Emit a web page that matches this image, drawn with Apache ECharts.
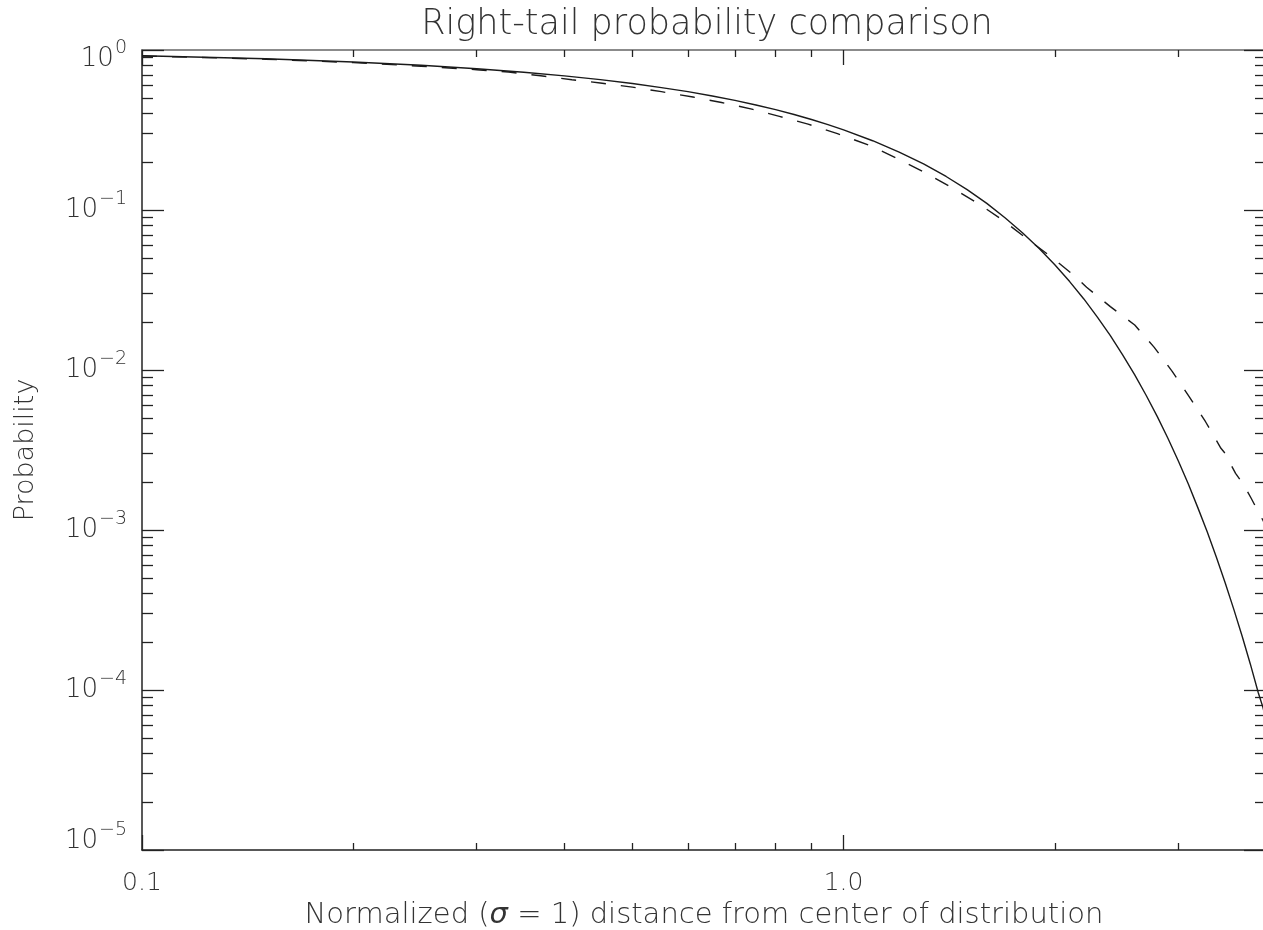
<!DOCTYPE html>
<html>
<head>
<meta charset="utf-8">
<script src="https://cdn.jsdelivr.net/npm/echarts@6/dist/echarts.min.js"></script>
<style>
  html, body { margin: 0; padding: 0; background: #fff; }
  #myChart { width: 1263px; height: 930px; }
</style>
</head>
<body>
<div id="myChart"></div>
<script>
// distance (sigma units) and probability
var xSolid = [0.1, 0.15, 0.2, 0.25, 0.3, 0.35, 0.4, 0.45, 0.5, 0.55, 0.6, 0.65, 0.7, 0.75, 0.8, 0.85, 0.9, 0.95, 1.0,
  1.1, 1.2, 1.3, 1.4, 1.5, 1.6, 1.7, 1.8, 1.9, 2.0, 2.1, 2.2, 2.3, 2.4, 2.5, 2.6, 2.7, 2.8, 2.9, 3.0,
  3.1, 3.2, 3.3, 3.4, 3.5, 3.6, 3.7, 3.8, 3.9, 3.96, 4.0];
var pSolid = [0.920, 0.881, 0.842, 0.803, 0.764, 0.726, 0.689, 0.653, 0.617, 0.582, 0.549, 0.516, 0.484, 0.453, 0.424, 0.395, 0.368, 0.342, 0.317,
  0.271, 0.230, 0.194, 0.162, 0.134, 0.110, 0.0891, 0.0719, 0.0574, 0.0455, 0.0357, 0.0278, 0.0214, 0.0164, 0.0124, 0.00932, 0.00693, 0.00511, 0.00373, 0.00270,
  0.00194, 0.00137, 0.000967, 0.000674, 0.000465, 0.000318, 0.000216, 0.000145, 0.0000962, 0.0000780, 0.0000650];

var xDashed = [0.1, 0.15, 0.2, 0.25, 0.3, 0.333, 0.37, 0.41, 0.45, 0.5, 0.55, 0.61, 0.67, 0.74, 0.81, 0.89, 0.98,
  1.1, 1.2, 1.31, 1.43, 1.56, 1.69, 1.83, 1.98, 2.14, 2.22, 2.40, 2.60, 2.77, 2.94, 3.11, 3.28, 3.36, 3.45, 3.49,
  3.62, 3.72, 3.81, 3.90, 3.96, 4.0];
var pDashed = [0.918, 0.876, 0.834, 0.792, 0.753, 0.728, 0.690, 0.652, 0.622, 0.586, 0.549, 0.508, 0.470, 0.427, 0.385, 0.344, 0.300,
  0.249, 0.207, 0.170, 0.137, 0.109, 0.0857, 0.0656, 0.0506, 0.0383, 0.0329, 0.0249, 0.0191, 0.0139, 0.0098, 0.0068, 0.00475, 0.00396, 0.00324, 0.00305,
  0.00226, 0.00191, 0.00158, 0.00130, 0.00115, 0.00106];

var xMajorTicks = [0.1, 1];
var xMinorTicks = [0.2, 0.3, 0.4, 0.5, 0.6, 0.7, 0.8, 0.9, 2, 3, 4];
var yMajorTicks = [1e-5, 1e-4, 1e-3, 1e-2, 1e-1, 1];
var yMinorSteps = [2, 3, 4, 5, 6, 7, 8, 9];

var yMinorTicks = [];
for (var d = 0; d < yMajorTicks.length - 1; d++) {
  for (var k = 0; k < yMinorSteps.length; k++) {
    yMinorTicks.push(yMajorTicks[d] * yMinorSteps[k]);
  }
}

function pairs(xs, ys) {
  var out = [];
  for (var i = 0; i < xs.length; i++) out.push([xs[i], ys[i]]);
  return out;
}

var axisColor = '#222';
var textColor = '#333';
var fontName = 'DejaVu Sans';
var fontW = 200;

function xAxisOf(pos, major, withLabel) {
  return {
    type: 'log',
    logBase: 10,
    min: 0.1,
    max: 4.0,
    position: pos,
    axisLine: { show: major, onZero: false, lineStyle: { color: pos === 'top' ? '#666' : axisColor, width: 1.5 } },
    axisTick: {
      show: true,
      inside: true,
      length: major ? 15 : 7,
      customValues: major ? xMajorTicks : xMinorTicks,
      lineStyle: { color: axisColor, width: 1.3 }
    },
    axisLabel: {
      show: withLabel,
      customValues: xMajorTicks,
      margin: 21,
      color: textColor,
      fontFamily: fontName,
      fontWeight: fontW,
      fontSize: 25,
      formatter: function (v) { return v >= 1 ? v.toFixed(1) : String(v); }
    },
    splitLine: { show: false },
    minorTick: { show: false },
    name: withLabel ? 'Normalized ({s|σ} = 1) distance from center of distribution' : '',
    nameLocation: 'middle',
    nameGap: 48,
    nameTextStyle: {
      color: textColor, fontFamily: fontName, fontWeight: fontW, fontSize: 29,
      rich: { s: { fontStyle: 'italic', fontSize: 29, color: textColor, fontFamily: fontName, fontWeight: fontW } }
    }
  };
}

// top / bottom labels of the y axis sit a little inside the frame
var richY = {
  b: { fontSize: 26, lineHeight: 22, color: textColor, fontFamily: fontName, fontWeight: fontW },
  e: { fontSize: 19, lineHeight: 16, padding: [0, 0, 22, 1], color: textColor, fontFamily: fontName, fontWeight: fontW },
  bt: { fontSize: 26, lineHeight: 22, padding: [19, 0, 0, 0], color: textColor, fontFamily: fontName, fontWeight: fontW },
  et: { fontSize: 19, lineHeight: 16, padding: [19, 0, 22, 1], color: textColor, fontFamily: fontName, fontWeight: fontW },
  bb: { fontSize: 26, lineHeight: 22, padding: [0, 0, 17, 0], color: textColor, fontFamily: fontName, fontWeight: fontW },
  eb: { fontSize: 19, lineHeight: 16, padding: [0, 0, 39, 1], color: textColor, fontFamily: fontName, fontWeight: fontW }
};

function yAxisOf(pos, major, withLabel) {
  return {
    type: 'log',
    logBase: 10,
    min: 1e-5,
    max: 1,
    position: pos,
    axisLine: { show: major, onZero: false, lineStyle: { color: axisColor, width: 1.5 } },
    axisTick: {
      show: true,
      inside: true,
      length: major ? 22 : 11,
      customValues: major ? yMajorTicks : yMinorTicks,
      lineStyle: { color: axisColor, width: 1.3 }
    },
    axisLabel: {
      show: withLabel,
      customValues: yMajorTicks,
      margin: 15,
      color: textColor,
      fontFamily: fontName,
      fontWeight: fontW,
      formatter: function (v) {
        var e = Math.round(Math.log(v) / Math.LN10);
        var sfx = e === 0 ? 't' : (e === -5 ? 'b' : '');
        return '{b' + sfx + '|10}{e' + sfx + '|' + (e < 0 ? '\u2212' + (-e) : e) + '}';
      },
      rich: richY
    },
    splitLine: { show: false },
    minorTick: { show: false },
    name: withLabel ? 'Probability' : '',
    nameLocation: 'middle',
    nameGap: 103,
    nameRotate: 90,
    nameTextStyle: { color: textColor, fontFamily: fontName, fontWeight: fontW, fontSize: 27 }
  };
}

var myChart = echarts.init(document.getElementById('myChart'), null, { renderer: 'canvas' });

myChart.setOption({
  backgroundColor: '#fff',
  animation: false,
  title: {
    text: 'Right-tail probability comparison',
    left: 702,
    top: 2,
    textAlign: 'center',
    textStyle: { color: textColor, fontFamily: fontName, fontSize: 35, fontWeight: fontW }
  },
  grid: {
    left: 142,
    right: -3,
    top: 50,
    bottom: 80,
    containLabel: false,
    outerBoundsMode: 'none'
  },
  xAxis: [
    xAxisOf('bottom', true, true),
    xAxisOf('bottom', false, false),
    xAxisOf('top', true, false),
    xAxisOf('top', false, false)
  ],
  yAxis: [
    yAxisOf('left', true, true),
    yAxisOf('left', false, false),
    yAxisOf('right', true, false),
    yAxisOf('right', false, false)
  ],
  series: [
    {
      name: 'Gaussian',
      type: 'line',
      xAxisIndex: 0,
      yAxisIndex: 0,
      data: pairs(xSolid, pSolid),
      showSymbol: false,
      smooth: false,
      lineStyle: { color: '#1a1a1a', width: 1.4, type: 'solid' }
    },
    {
      name: 'Comparison',
      type: 'line',
      xAxisIndex: 0,
      yAxisIndex: 0,
      data: pairs(xDashed, pDashed),
      showSymbol: false,
      smooth: false,
      lineStyle: { color: '#1a1a1a', width: 1.4, type: [15, 15] }
    }
  ]
});
</script>
</body>
</html>
